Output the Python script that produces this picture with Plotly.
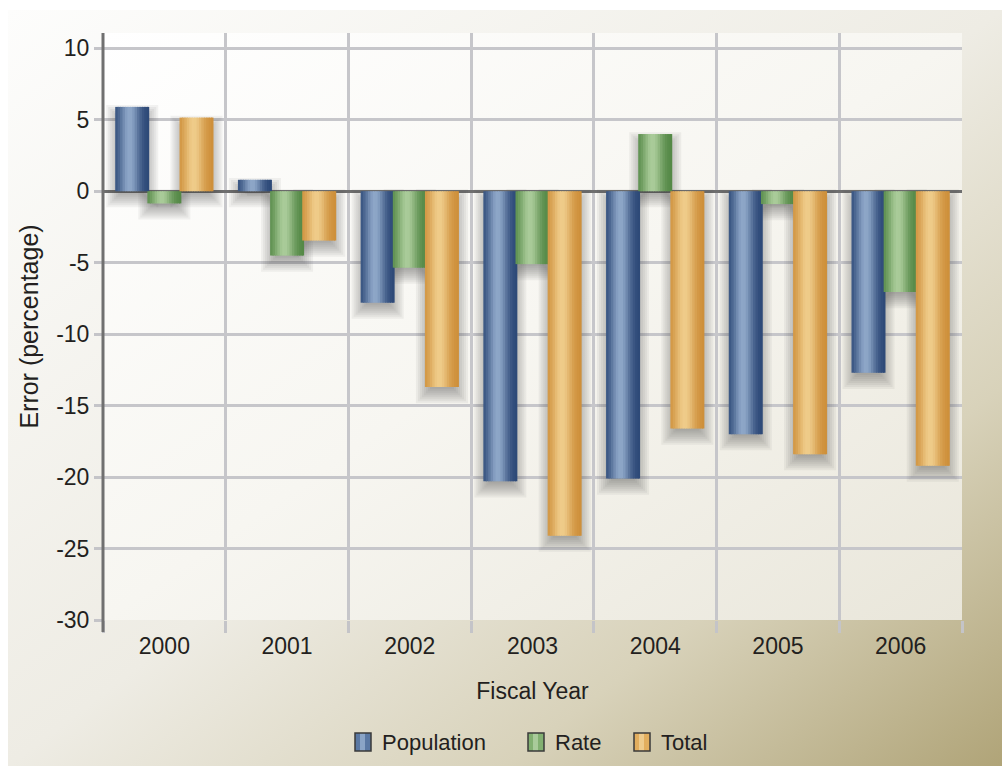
import base64
import math
import plotly.graph_objects as go

# ---------------- data ----------------
years = ["2000", "2001", "2002", "2003", "2004", "2005", "2006"]
population = [5.9, 0.8, -7.8, -20.3, -20.1, -17.0, -12.7]
rate = [-0.85, -4.5, -5.35, -5.1, 4.0, -0.9, -7.05]
total = [5.15, -3.45, -13.7, -24.1, -16.6, -18.4, -19.2]
series_names = ["Population", "Rate", "Total"]
y_ticks = [10, 5, 0, -5, -10, -15, -20, -25, -30]
y_tick_labels = ["10", "5", "0", "-5", "-10", "-15", "-20", "-25", "-30"]

# ---------------- styles ----------------
FONT = "Liberation Sans, Arial, Helvetica, sans-serif"
TXT = "#231f20"
W, H = 1002, 769
ML, MR, MT, MB = 103, 40, 33, 149
PW, PH = W - ML - MR, H - MT - MB

dark = [(42, 70, 117), (82, 134, 68), (205, 142, 56)]
light = [(142, 167, 200), (170, 204, 154), (239, 204, 138)]
legend_col = ["#5a78a3", "#82b071", "#e2ae5e"]
legend_hi = ["#8aa4c6", "#a9cb9a", "#eecb8c"]
legend_box_px = [355, 528, 634]   # left edge of each legend swatch (pixels)
legend_y_px = 742
bar_w = 0.277
centers = [-0.262, 0.0, 0.262]
N = 14
Y2X = (PH / 41.07) / (PW / 7.0)   # one y-unit expressed in category units


def profile(t):
    return math.exp(-((t - 0.42) / 0.3) ** 2)


def mix(a, b, f):
    return "rgb(%d,%d,%d)" % tuple(round(a[i] + (b[i] - a[i]) * f) for i in range(3))


def px_x(p):
    return (p - ML) / PW


def px_y(p):
    return (H - MB - p) / PH


fig = go.Figure()
values = [population, rate, total]

# soft drop shadows (approximate blur by stacked translucent rectangles)
SH_D, SH_R, SH_L = 0.5, 0.7, 10
for s, vals in enumerate(values):
    for j in range(SH_L):
        r = ((j + 0.5) / SH_L) * 2 * SH_R - SH_R
        lo = [min(v, 0) - SH_D - r for v in vals]
        hi = [max(v, 0) - SH_D + r for v in vals]
        wid = bar_w + 2 * r * Y2X
        fig.add_trace(go.Bar(
            x=years, y=[h - l for h, l in zip(hi, lo)], base=lo,
            width=wid, offset=centers[s] - wid / 2,
            marker=dict(color="rgba(60,60,60,0.062)", line=dict(width=0)),
            showlegend=False, hoverinfo="skip"))

# cylindrical bars built from thin strips
step = bar_w / N
for s, vals in enumerate(values):
    for i in range(N):
        t = (i + 0.5) / N
        col = mix(dark[s], light[s], profile(t))
        wdt = step * (1.5 if i < N - 1 else 1.0)
        fig.add_trace(go.Bar(
            x=years, y=vals, width=wdt, name=series_names[s],
            offset=centers[s] - bar_w / 2 + i * step,
            marker=dict(color=col, line=dict(width=0)),
            showlegend=False, hoverinfo="skip"))

# legend (swatches + labels)
shapes = [dict(type="line", xref="paper", yref="paper", x0=0, x1=0, y0=-12 / PH, y1=1,
               line=dict(color="#707070", width=3), layer="above")]
annotations = []
for s, name in enumerate(series_names):
    x0 = legend_box_px[s]
    shapes.append(dict(type="rect", xref="paper", yref="paper",
                       x0=px_x(x0), x1=px_x(x0 + 16), y0=px_y(legend_y_px + 9), y1=px_y(legend_y_px - 9),
                       fillcolor=legend_col[s], line=dict(width=0), layer="above"))
    shapes.append(dict(type="rect", xref="paper", yref="paper",
                       x0=px_x(x0 + 5), x1=px_x(x0 + 10), y0=px_y(legend_y_px + 9), y1=px_y(legend_y_px - 9),
                       fillcolor=legend_hi[s], line=dict(width=0), layer="above"))
    shapes.append(dict(type="rect", xref="paper", yref="paper",
                       x0=px_x(x0), x1=px_x(x0 + 16), y0=px_y(legend_y_px + 9), y1=px_y(legend_y_px - 9),
                       fillcolor="rgba(0,0,0,0)", line=dict(color="#3a3a3a", width=1.5), layer="above"))
    annotations.append(dict(text=name, xref="paper", yref="paper", x=px_x(x0 + 25), y=px_y(legend_y_px),
                            xanchor="left", yanchor="middle", showarrow=False,
                            font=dict(size=22, color=TXT, family=FONT)))

outer_svg = (
    '<svg xmlns="http://www.w3.org/2000/svg" width="1002" height="769" viewBox="0 0 1002 769" '
    'preserveAspectRatio="none"><defs><linearGradient id="g" x1="0" y1="0" x2="1" y2="1">'
    '<stop offset="0" stop-color="#fdfdfc"/><stop offset="0.5" stop-color="#eeece4"/>'
    '<stop offset="0.75" stop-color="#d8d2ba"/><stop offset="1" stop-color="#b0a478"/>'
    '</linearGradient></defs><rect x="0" y="0" width="1002" height="769" fill="#ffffff"/>'
    '<rect x="8" y="10" width="994" height="756" fill="url(#g)"/></svg>'
)
inner_svg = (
    '<svg xmlns="http://www.w3.org/2000/svg" width="100" height="100" viewBox="0 0 100 100" '
    'preserveAspectRatio="none"><defs><linearGradient id="p" x1="0" y1="0" x2="1" y2="1">'
    '<stop offset="0" stop-color="#ffffff"/><stop offset="0.5" stop-color="#f7f6f1"/>'
    '<stop offset="1" stop-color="#e9e6da"/></linearGradient></defs>'
    '<rect x="0" y="0" width="100" height="100" fill="url(#p)"/></svg>'
)


def uri(svg):
    return "data:image/svg+xml;base64," + base64.b64encode(svg.encode()).decode()


fig.update_layout(
    width=W, height=H,
    margin=dict(l=ML, r=MR, t=MT, b=MB, autoexpand=False),
    paper_bgcolor="#ffffff", plot_bgcolor="rgba(0,0,0,0)",
    barmode="overlay", showlegend=False,
    font=dict(family=FONT, color=TXT, size=23),
    images=[
        dict(source=uri(outer_svg), xref="paper", yref="paper", x=-ML / PW, y=1 + MT / PH,
             sizex=W / PW, sizey=H / PH, xanchor="left", yanchor="top", sizing="stretch", layer="below"),
        dict(source=uri(inner_svg), xref="paper", yref="paper", x=0, y=1,
             sizex=1, sizey=1, xanchor="left", yanchor="top", sizing="stretch", layer="below"),
    ],
    xaxis=dict(type="category", tickson="boundaries", ticks="outside", ticklen=12, tickwidth=3,
               tickcolor="#c4c4c8", showgrid=True, gridcolor="#c6c6ca", gridwidth=3,
               showline=False, zeroline=False, tickfont=dict(size=23), automargin=False,
               ticklabelstandoff=10,
               title=dict(text="Fiscal Year", font=dict(size=23), standoff=24),
               range=[-0.5, 6.5]),
    yaxis=dict(range=[-30, 11.07], tickvals=y_ticks, ticktext=y_tick_labels, ticks="outside",
               ticklen=8, tickwidth=3, automargin=False,
               tickcolor="#c4c4c8", showgrid=True, gridcolor="#c6c6ca", gridwidth=3,
               zeroline=True, zerolinecolor="#6e6e6e", zerolinewidth=3, showline=False,
               tickfont=dict(size=23),
               title=dict(text="Error (percentage)", font=dict(size=25), standoff=10)),
    shapes=shapes,
    annotations=annotations,
)

fig.write_html("out.html")
